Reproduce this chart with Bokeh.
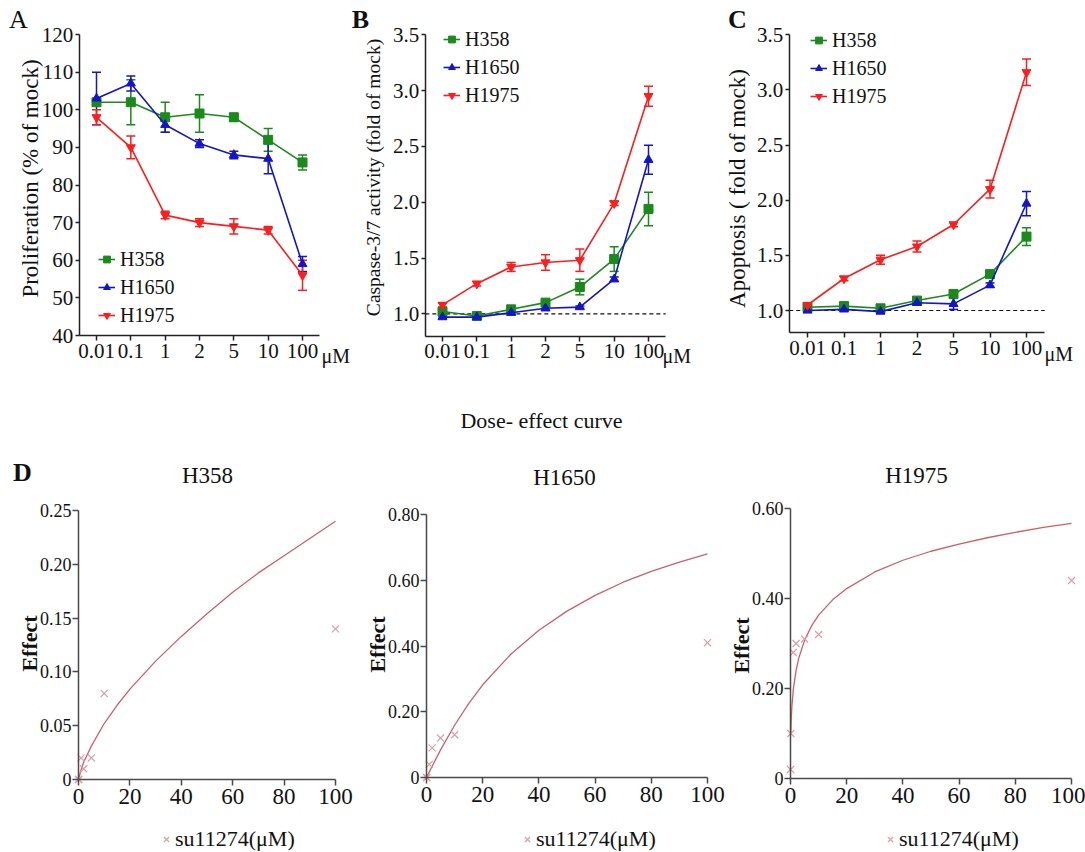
import math
from bokeh.plotting import figure
from bokeh.models import (Range1d, ColumnDataSource, Whisker, TeeHead, Legend, LegendItem,
                          Label, FixedTicker, CustomJSTickFormatter)
from bokeh.layouts import row, column
from bokeh.embed import file_html
from bokeh.resources import INLINE

SERIF = "Liberation Serif"
GREEN = "#1a8a1a"
BLUE = "#1414c8"
RED = "#ff1c1c"
CURVE = "#cc5f6e"
XMARK = "#d9a0a8"
AXIS = "#222222"
TXT = "#111111"

# ---------------- data ----------------
doses = ["0.01", "0.1", "1", "2", "5", "10", "100"]
series_names = ["H358", "H1650", "H1975"]

# A: proliferation (% of mock)
prolif_h358 = [102, 102, 98, 99, 98, 92, 86]
prolif_h358_err = [1, 6, 4, 5, 1, 3, 2]
prolif_h1650 = [103, 107, 96, 91, 88, 87, 59]
prolif_h1650_err = [7, 2, 2, 1, 1, 4, 2]
prolif_h1975 = [98, 90, 72, 70, 69, 68, 56]
prolif_h1975_err = [2, 3, 1, 1, 2, 1, 4]

# B: caspase-3/7 activity (fold of mock)
casp_h358 = [1.02, 0.98, 1.04, 1.10, 1.24, 1.49, 1.94]
casp_h358_err = [0.02, 0.02, 0.02, 0.02, 0.07, 0.11, 0.15]
casp_h1650 = [0.97, 0.97, 1.01, 1.05, 1.06, 1.31, 2.38]
casp_h1650_err = [0.01, 0.01, 0.02, 0.02, 0.01, 0.02, 0.13]
casp_h1975 = [1.08, 1.27, 1.42, 1.46, 1.48, 1.99, 2.95]
casp_h1975_err = [0.02, 0.02, 0.04, 0.07, 0.10, 0.02, 0.09]

# C: apoptosis (fold of mock)
apop_h358 = [1.03, 1.04, 1.02, 1.09, 1.15, 1.33, 1.67]
apop_h358_err = [0.01, 0.01, 0.01, 0.02, 0.02, 0.03, 0.08]
apop_h1650 = [1.00, 1.01, 0.99, 1.07, 1.06, 1.23, 1.97]
apop_h1650_err = [0.01, 0.01, 0.01, 0.02, 0.05, 0.02, 0.11]
apop_h1975 = [1.05, 1.29, 1.46, 1.58, 1.78, 2.10, 3.16]
apop_h1975_err = [0.02, 0.02, 0.04, 0.05, 0.02, 0.08, 0.12]

# D: dose-effect (su11274, uM)
d_doses = [0.01, 0.1, 1, 2, 5, 10, 100]
eff_h358 = [0.0, 0.0, 0.02, 0.01, 0.02, 0.08, 0.14]
eff_h1650 = [0.0, 0.0, 0.04, 0.09, 0.12, 0.13, 0.41]
eff_h1975 = [0.02, 0.10, 0.28, 0.30, 0.31, 0.32, 0.44]

curve_x_h358 = [0, 1, 2, 5, 10, 15, 20, 30, 40, 50, 60, 70, 80, 90, 100]
curve_y_h358 = [0, 0.009, 0.016, 0.031, 0.052, 0.069, 0.084, 0.110, 0.133, 0.154, 0.174,
                0.192, 0.208, 0.224, 0.240]
curve_x_h1650 = [0, 1, 2, 5, 10, 15, 20, 30, 40, 50, 60, 70, 80, 90, 100]
curve_y_h1650 = [0, 0.017, 0.034, 0.084, 0.159, 0.225, 0.282, 0.375, 0.448, 0.506, 0.554,
                 0.594, 0.627, 0.655, 0.680]
curve_x_h1975 = [0.1, 0.25, 0.5, 1, 2, 3, 5, 7.5, 10, 15, 20, 30, 40, 50, 60, 70, 80, 90, 100]
curve_y_h1975 = [0.097, 0.130, 0.161, 0.198, 0.241, 0.269, 0.307, 0.339, 0.363, 0.397, 0.422,
                 0.459, 0.485, 0.505, 0.521, 0.535, 0.547, 0.558, 0.567]


# ---------------- layout helpers (picture pixel geometry) ----------------
def xr(L, W, a, pa, b, pb):
    s = (pb - pa) / (b - a)
    start = a - (pa - L) / s
    return Range1d(start, start + W / s)


def yr(T, H, a, pa, b, pb):
    bottom = T + H
    ua, ub = bottom - pa, bottom - pb
    s = (ub - ua) / (b - a)
    start = a - ua / s
    return Range1d(start, start + H / s)


def make_fig(L, T, W, H, x_range, y_range):
    p = figure(width=W, height=H, x_range=x_range, y_range=y_range,
               output_backend="svg", toolbar_location=None, min_border=0,
               background_fill_color="white", border_fill_color="white")
    p.xgrid.visible = False
    p.ygrid.visible = False
    p.outline_line_color = None
    p._geom = (L, T, W, H)
    return p


def style_axis(ax, color, tick_size, tick_out, standoff):
    ax.axis_line_color = color
    ax.axis_line_width = 1.5
    ax.major_tick_line_color = color
    ax.major_tick_line_width = 1.5
    ax.major_tick_in = 0
    ax.major_tick_out = tick_out
    ax.minor_tick_line_color = None
    ax.major_label_text_font = SERIF
    ax.major_label_text_font_size = tick_size
    ax.major_label_text_color = TXT
    ax.major_label_standoff = standoff


def text_at(p, px, py, text, size, bold=False, angle=0.0, align="center", baseline="middle"):
    L, T, W, H = p._geom
    p.add_layout(Label(x=px - L, y=T + H - py, x_units="screen", y_units="screen",
                       text=text, text_font=SERIF, text_font_size=size,
                       text_font_style="bold" if bold else "normal", angle=angle,
                       text_align=align, text_baseline=baseline, text_color=TXT))


XB = (-0.5, len(doses) - 0.5)
dose_pos = list(range(len(doses)))


def top_panel(geom, xanch, yanch, ybounds, yticks, ydigits, data, legend_px, dashed):
    L, T, W, H = geom
    p = make_fig(L, T, W, H, xr(L, W, 0, xanch[0], len(doses) - 1, xanch[1]),
                 yr(T, H, yanch[0], yanch[1], yanch[2], yanch[3]))
    xa, ya = p.xaxis[0], p.yaxis[0]
    style_axis(xa, AXIS, "21px", 5, 3)
    style_axis(ya, AXIS, "21px", 4, 2)
    xa.fixed_location = ybounds[0]
    xa.bounds = XB
    xa.ticker = FixedTicker(ticks=dose_pos)
    xa.formatter = CustomJSTickFormatter(args=dict(labels=doses),
                                         code="return labels[Math.round(tick)];")
    ya.fixed_location = XB[0]
    ya.bounds = ybounds
    ya.ticker = FixedTicker(ticks=yticks)
    ya.formatter = CustomJSTickFormatter(code="return tick.toFixed(%d);" % ydigits)

    if dashed:
        p.line(list(XB), [1.0, 1.0], line_color=TXT, line_width=1.2, line_dash="4 3")

    markers = ["square", "triangle", "inverted_triangle"]
    colors = [GREEN, BLUE, RED]
    items = []
    for name, (vals, errs), mk, c in zip(series_names, data, markers, colors):
        src = ColumnDataSource(dict(x=dose_pos, y=vals,
                                    upper=[v + e for v, e in zip(vals, errs)],
                                    lower=[v - e for v, e in zip(vals, errs)]))
        p.add_layout(Whisker(base="x", upper="upper", lower="lower", source=src,
                             line_color=c, line_width=1.5,
                             upper_head=TeeHead(size=9, line_color=c, line_width=1.5),
                             lower_head=TeeHead(size=9, line_color=c, line_width=1.5)))
        lr = p.line("x", "y", source=src, line_color=c, line_width=1.6)
        sr = p.scatter("x", "y", source=src, marker=mk, size=9, fill_color=c, line_color=c)
        items.append(LegendItem(label=name, renderers=[lr, sr]))

    lx, lbottom = legend_px
    p.add_layout(Legend(items=items, location=(lx - L, T + H - lbottom),
                        label_text_font=SERIF, label_text_font_size="20px",
                        label_text_color=TXT, glyph_width=17, glyph_height=24,
                        label_height=24, spacing=4, padding=0, margin=0, label_standoff=5,
                        border_line_color=None, background_fill_alpha=0))
    return p


# ---- top row ----
pA = top_panel((0, 0, 351, 440), (96, 302), (40, 335, 120, 34), (40, 120),
               list(range(40, 121, 10)), 0,
               [(prolif_h358, prolif_h358_err), (prolif_h1650, prolif_h1650_err),
                (prolif_h1975, prolif_h1975_err)], (98, 327), False)
text_at(pA, 30, 178, "Proliferation (% of mock)", "23px", angle=math.pi / 2)
text_at(pA, 18, 19, "A", "26px")
text_at(pA, 321, 355, "μM", "20px", align="left")

pB = top_panel((351, 0, 349, 440), (442, 648), (1.0, 313.3, 3.5, 34.3), (0.8, 3.5),
               [1.0, 1.5, 2.0, 2.5, 3.0, 3.5], 1,
               [(casp_h358, casp_h358_err), (casp_h1650, casp_h1650_err),
                (casp_h1975, casp_h1975_err)], (443, 107), True)
text_at(pB, 373, 177, "Caspase-3/7 activity (fold of mock)", "19.5px", angle=math.pi / 2)
text_at(pB, 360, 19, "B", "26px", bold=True)
text_at(pB, 662, 355, "μM", "20px", align="left")
text_at(pB, 541, 420, "Dose- effect curve", "22px")

pC = top_panel((700, 0, 385, 440), (807, 1026), (1.0, 310, 3.5, 34.3), (0.8, 3.5),
               [1.0, 1.5, 2.0, 2.5, 3.0, 3.5], 1,
               [(apop_h358, apop_h358_err), (apop_h1650, apop_h1650_err),
                (apop_h1975, apop_h1975_err)], (810, 108), True)
text_at(pC, 737, 188, "Apoptosis ( fold of mock)", "23px", angle=math.pi / 2)
text_at(pC, 737, 19, "C", "26px", bold=True)
text_at(pC, 1044, 353, "μM", "20px", align="left")


# ---- bottom row ----
def d_panel(geom, xanch, yanch, ymax, yticks, cx, cy, effects, title, title_xy,
            effect_xy, legend_px):
    L, T, W, H = geom
    p = make_fig(L, T, W, H, xr(L, W, 0, xanch[0], 100, xanch[1]),
                 yr(T, H, 0, yanch[0], ymax, yanch[1]))
    xa, ya = p.xaxis[0], p.yaxis[0]
    style_axis(xa, "#4a4a4a", "23px", 6, 3)
    style_axis(ya, "#4a4a4a", "18px", 6, 1)
    xa.fixed_location = 0
    xa.bounds = (0, 100)
    xa.ticker = FixedTicker(ticks=[0, 20, 40, 60, 80, 100])
    ya.fixed_location = 0
    ya.bounds = (0, ymax)
    ya.ticker = FixedTicker(ticks=yticks)
    ya.formatter = CustomJSTickFormatter(code="return tick == 0 ? '0' : tick.toFixed(2);")

    p.line(cx, cy, line_color=CURVE, line_width=1.3)
    sr = p.scatter(d_doses, effects, marker="x", size=10, line_color=XMARK, line_width=1.2)
    lx, lbottom = legend_px
    p.add_layout(Legend(items=[LegendItem(label="su11274(μM)", renderers=[sr])],
                        location=(lx - L, T + H - lbottom),
                        label_text_font=SERIF, label_text_font_size="22px",
                        label_text_color=TXT, glyph_width=18, glyph_height=22,
                        label_height=22, padding=0, margin=0, label_standoff=0,
                        border_line_color=None, background_fill_alpha=0))
    text_at(p, title_xy[0], title_xy[1], title, "23px")
    text_at(p, effect_xy[0], effect_xy[1], "Effect", "22px", bold=True, angle=math.pi / 2)
    return p


pD1 = d_panel((0, 440, 360, 412), (78, 335), (779, 510), 0.25,
              [0, 0.05, 0.10, 0.15, 0.20, 0.25], curve_x_h358, curve_y_h358, eff_h358,
              "H358", (207, 475), (29, 643), (157, 852))
text_at(pD1, 22, 472, "D", "26px", bold=True)

pD2 = d_panel((360, 440, 370, 412), (426, 707), (777, 514), 0.80,
              [0, 0.20, 0.40, 0.60, 0.80], curve_x_h1650, curve_y_h1650, eff_h1650,
              "H1650", (564, 477), (377, 644), (518, 852))

pD3 = d_panel((730, 440, 355, 412), (790, 1071), (778, 508), 0.60,
              [0, 0.20, 0.40, 0.60], curve_x_h1975, curve_y_h1975, eff_h1975,
              "H1975", (916, 475), (741, 645), (881, 852))

layout = column(row(pA, pB, pC, spacing=0), row(pD1, pD2, pD3, spacing=0), spacing=0)

open("out.html", "w").write(file_html(layout, INLINE))
